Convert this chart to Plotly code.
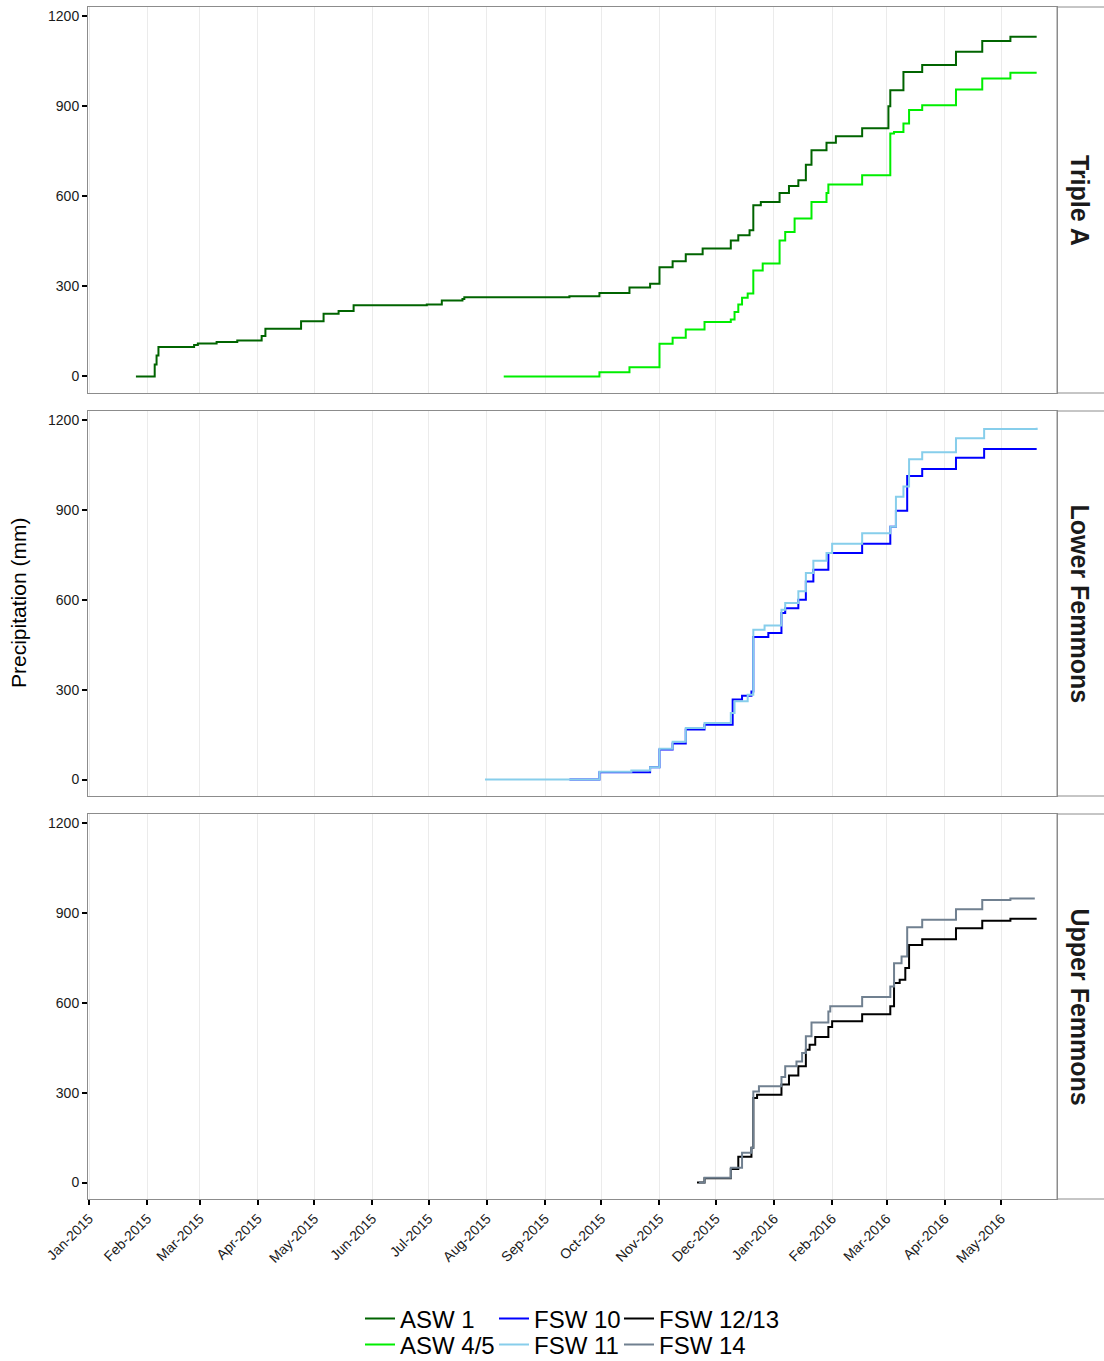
import plotly.graph_objects as go

# ---------------- data ----------------
asw1_dates = ["2015-01-26", "2015-02-05", "2015-02-06", "2015-02-07", "2015-02-26", "2015-02-28",
              "2015-03-10", "2015-03-21", "2015-04-03", "2015-04-05", "2015-04-24", "2015-05-06",
              "2015-05-14", "2015-05-22", "2015-06-30", "2015-07-08", "2015-07-19", "2015-07-20",
              "2015-09-14", "2015-09-30", "2015-10-16", "2015-10-27", "2015-11-01", "2015-11-08",
              "2015-11-15", "2015-11-24", "2015-12-09", "2015-12-13", "2015-12-19", "2015-12-21",
              "2015-12-25", "2016-01-04", "2016-01-09", "2016-01-14", "2016-01-18", "2016-01-21",
              "2016-01-29", "2016-02-03", "2016-02-17", "2016-03-02", "2016-03-03", "2016-03-10",
              "2016-03-20", "2016-04-07", "2016-04-21", "2016-05-06", "2016-05-20"]
asw1_vals = [0, 40, 70, 98, 105, 110, 115, 120, 135, 159, 184, 209, 218, 237, 240, 253, 258, 264,
             267, 278, 296, 309, 364, 384, 407, 426, 453, 470, 487, 570, 581, 611, 634, 653, 705,
             753, 778, 800, 826, 900, 953, 1014, 1037, 1081, 1117, 1131, 1131]

asw45_dates = ["2015-08-10", "2015-09-30", "2015-10-16", "2015-11-01", "2015-11-08", "2015-11-15",
               "2015-11-25", "2015-12-09", "2015-12-11", "2015-12-13", "2015-12-15", "2015-12-18",
               "2015-12-21", "2015-12-26", "2016-01-04", "2016-01-07", "2016-01-12", "2016-01-21",
               "2016-01-29", "2016-01-30", "2016-02-17", "2016-03-03", "2016-03-05", "2016-03-10",
               "2016-03-13", "2016-03-20", "2016-04-07", "2016-04-21", "2016-05-06", "2016-05-20"]
asw45_vals = [0, 14, 31, 109, 129, 156, 181, 190, 215, 240, 262, 276, 353, 376, 453, 481, 526, 581,
              611, 639, 670, 809, 814, 842, 887, 903, 955, 992, 1011, 1011]

fsw10_dates = ["2015-09-14", "2015-09-30", "2015-10-27", "2015-11-01", "2015-11-08", "2015-11-15",
               "2015-11-25", "2015-12-10", "2015-12-15", "2015-12-20", "2015-12-21", "2015-12-29",
               "2016-01-05", "2016-01-07", "2016-01-14", "2016-01-18", "2016-01-22", "2016-01-30",
               "2016-02-17", "2016-03-03", "2016-03-06", "2016-03-12", "2016-03-20", "2016-04-07",
               "2016-04-22", "2016-05-20"]
fsw10_vals = [0, 24, 41, 100, 120, 167, 183, 267, 280, 294, 476, 489, 556, 572, 600, 661, 700, 756,
              787, 844, 897, 1013, 1036, 1074, 1103, 1103]

fsw11_dates = ["2015-07-31", "2015-09-30", "2015-10-17", "2015-10-27", "2015-11-01", "2015-11-08",
               "2015-11-15", "2015-11-25", "2015-12-09", "2015-12-11", "2015-12-18", "2015-12-21",
               "2015-12-27", "2016-01-05", "2016-01-07", "2016-01-14", "2016-01-18", "2016-01-22",
               "2016-01-29", "2016-02-01", "2016-02-17", "2016-03-03", "2016-03-06", "2016-03-10",
               "2016-03-13", "2016-03-20", "2016-04-07", "2016-04-22", "2016-05-20"]
fsw11_vals = [0, 26, 30, 41, 103, 126, 172, 189, 222, 261, 283, 500, 514, 567, 589, 628, 689, 730,
              756, 787, 822, 844, 944, 978, 1069, 1092, 1139, 1170, 1174]

fsw1213_dates = ["2015-11-21", "2015-11-25", "2015-12-09", "2015-12-13", "2015-12-20", "2015-12-21",
                 "2015-12-23", "2016-01-05", "2016-01-09", "2016-01-14", "2016-01-18", "2016-01-20",
                 "2016-01-23", "2016-01-30", "2016-02-01", "2016-02-17", "2016-03-03", "2016-03-05",
                 "2016-03-08", "2016-03-11", "2016-03-13", "2016-03-20", "2016-04-07", "2016-04-21",
                 "2016-05-06", "2016-05-20"]
fsw1213_vals = [0, 14, 45, 86, 116, 282, 293, 327, 357, 388, 443, 460, 486, 519, 538, 562, 588, 666,
                677, 716, 793, 812, 849, 874, 880, 880]

fsw14_dates = ["2015-11-22", "2015-11-25", "2015-12-09", "2015-12-15", "2015-12-20", "2015-12-21",
               "2015-12-24", "2016-01-05", "2016-01-07", "2016-01-13", "2016-01-16", "2016-01-18",
               "2016-01-21", "2016-01-30", "2016-01-31", "2016-02-17", "2016-03-03", "2016-03-05",
               "2016-03-09", "2016-03-12", "2016-03-20", "2016-04-07", "2016-04-21", "2016-05-06",
               "2016-05-19"]
fsw14_vals = [0, 16, 49, 99, 116, 304, 321, 352, 388, 404, 432, 488, 534, 571, 588, 619, 654, 732,
              754, 852, 877, 912, 943, 948, 948]

facets = ["Triple A", "Lower Femmons", "Upper Femmons"]
month_ticks = ["2015-01-01", "2015-02-01", "2015-03-01", "2015-04-01", "2015-05-01", "2015-06-01",
               "2015-07-01", "2015-08-01", "2015-09-01", "2015-10-01", "2015-11-01", "2015-12-01",
               "2016-01-01", "2016-02-01", "2016-03-01", "2016-04-01", "2016-05-01"]
y_ticks = [0, 300, 600, 900, 1200]

# series: (name, dates, values, colour, panel)
series = [
    ("ASW 1", asw1_dates, asw1_vals, "#006400", 1),
    ("ASW 4/5", asw45_dates, asw45_vals, "#00EE00", 1),
    ("FSW 10", fsw10_dates, fsw10_vals, "#0000FF", 2),
    ("FSW 11", fsw11_dates, fsw11_vals, "#87CEEB", 2),
    ("FSW 12/13", fsw1213_dates, fsw1213_vals, "#000000", 3),
    ("FSW 14", fsw14_dates, fsw14_vals, "#708090", 3),
]

# ---------------- layout geometry ----------------
W, H = 1104, 1361
def py(px):
    return 1 - px / H

x_dom = [88 / W, 1057 / W]
panels_px = [(7, 393), (411, 796), (814, 1199)]
x_range = ["2014-12-31 11:00", "2016-05-30 20:00"]
y_range = [-55, 1230]
FONT = "Liberation Sans, Arial, Helvetica, sans-serif"

# legend placement (text-left px, row-centre px) laid out as 3 columns x 2 rows
legend_pos = {
    "ASW 1": (400, 1319), "ASW 4/5": (400, 1345),
    "FSW 10": (534, 1319), "FSW 11": (534, 1345),
    "FSW 12/13": (659, 1319), "FSW 14": (659, 1345),
}

fig = go.Figure()
layout = dict(
    template="none",
    width=W, height=H, margin=dict(l=0, r=0, t=0, b=0, autoexpand=False),
    paper_bgcolor="white", plot_bgcolor="white",
    font=dict(family=FONT, color="#000000"),
    showlegend=True,
)

for k, (name, d, v, col, p) in enumerate(series, start=1):
    lg = "legend" if k == 1 else f"legend{k}"
    fig.add_trace(go.Scatter(
        x=d, y=v, mode="lines", line=dict(color=col, width=2, shape="hv"),
        name=name, legend=lg,
        xaxis="x" if p == 1 else f"x{p}", yaxis="y" if p == 1 else f"y{p}",
    ))
    tx, ty = legend_pos[name]
    layout[lg] = dict(orientation="h", x=(tx - 40) / W, xanchor="left", y=py(ty), yanchor="middle",
                      font=dict(family=FONT, size=24, color="#000000"),
                      bgcolor="rgba(0,0,0,0)", borderwidth=0, itemwidth=30)

tick_font = dict(family=FONT, size=14, color="#1a1a1a")
for i, (top, bot) in enumerate(panels_px, start=1):
    xk = "xaxis" if i == 1 else f"xaxis{i}"
    yk = "yaxis" if i == 1 else f"yaxis{i}"
    yref = "y" if i == 1 else f"y{i}"
    xref = "x" if i == 1 else f"x{i}"
    last = (i == 3)
    layout[xk] = dict(
        domain=x_dom, anchor=yref, type="date", range=x_range,
        tickvals=month_ticks, tickformat="%b-%Y", tickangle=-45,
        showticklabels=last, ticks="outside" if last else "", ticklen=5, tickwidth=1.5,
        tickcolor="#000000", automargin=False,
        tickfont=tick_font, showgrid=True, gridcolor="#EBEBEB", gridwidth=1,
        showline=True, mirror=True, linecolor="#8c8c8c", linewidth=1, zeroline=False,
    )
    layout[yk] = dict(
        domain=[py(bot), py(top)], anchor=xref, range=y_range,
        tickvals=y_ticks, ticks="outside", ticklen=5, tickwidth=1.5, tickcolor="#000000",
        tickfont=tick_font, showgrid=False, zeroline=False, automargin=False,
        showline=True, mirror=True, linecolor="#8c8c8c", linewidth=1,
    )
fig.update_layout(**layout)

# strips on the right
shapes = []
annotations = []
for (top, bot), label in zip(panels_px, facets):
    shapes.append(dict(type="rect", xref="paper", yref="paper", x0=1057 / W, x1=1.02,
                       y0=py(bot), y1=py(top), line=dict(color="#8c8c8c", width=1),
                       fillcolor="white", layer="below"))
    annotations.append(dict(text=label, xref="paper", yref="paper", x=1080 / W, y=py((top + bot) / 2),
                            textangle=90, showarrow=False, xanchor="center", yanchor="middle",
                            font=dict(family=FONT, size=25, color="#1a1a1a", weight="bold")))
annotations.append(dict(text="Precipitation (mm)", xref="paper", yref="paper", x=19 / W, y=py(603),
                        textangle=-90, showarrow=False, xanchor="center", yanchor="middle",
                        font=dict(family=FONT, size=21, color="#000000")))
fig.update_layout(shapes=shapes, annotations=annotations)

fig.write_html("out.html", config={"displayModeBar": False},
               post_script="document.body.style.margin='0px';")
